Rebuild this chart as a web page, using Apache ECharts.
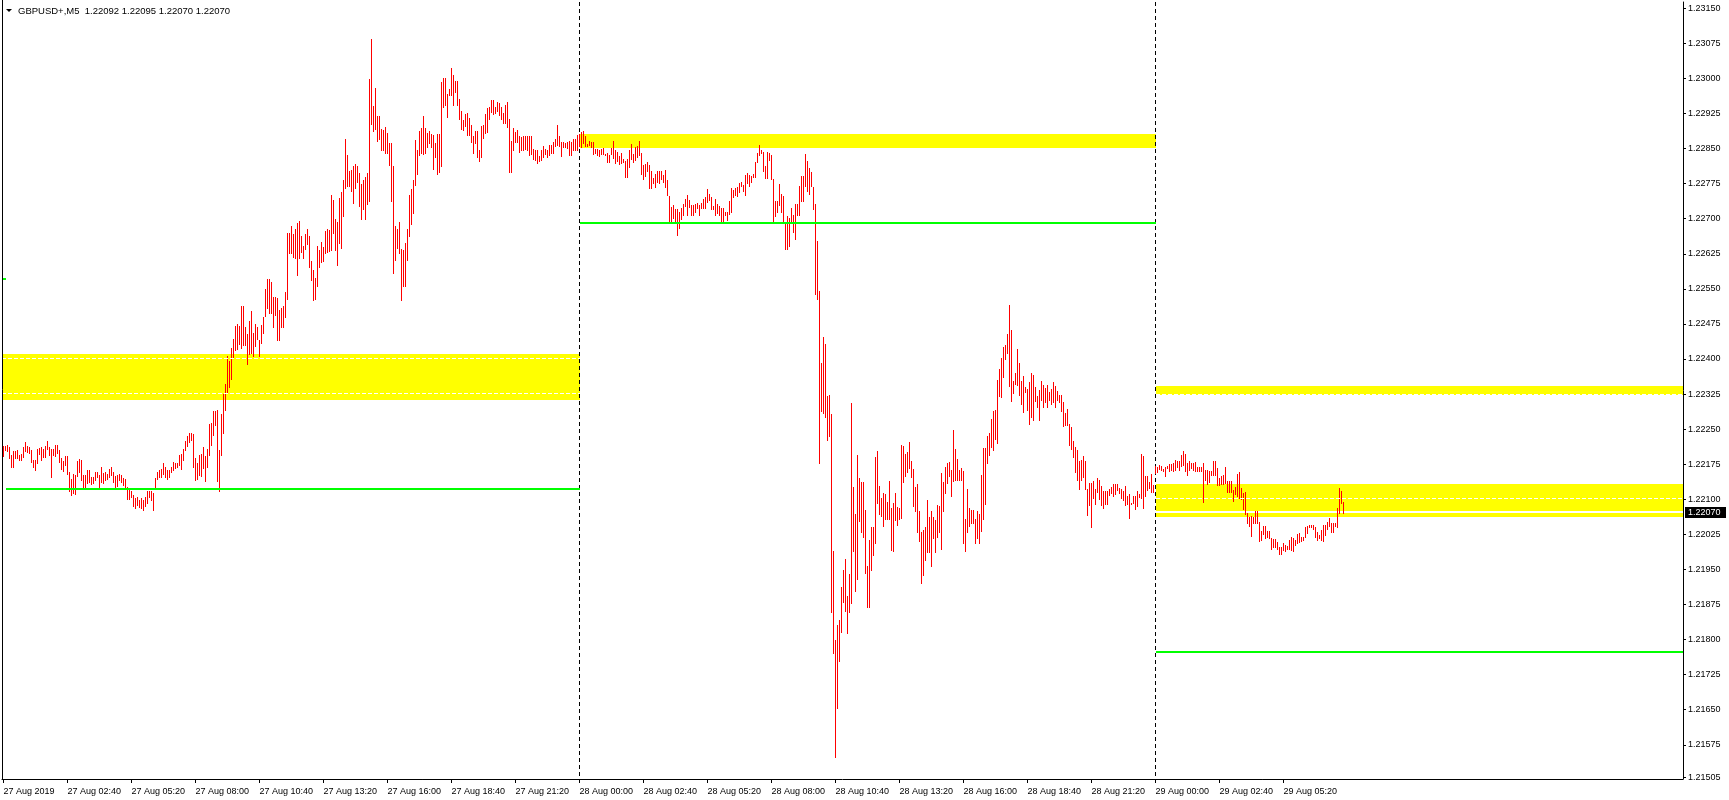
<!DOCTYPE html>
<html><head><meta charset="utf-8">
<script src="https://cdn.jsdelivr.net/npm/echarts@6/dist/echarts.min.js"></script>
<style>html,body{margin:0;padding:0;background:#fff}#c{width:1729px;height:800px}</style>
</head><body><div id="c"></div>
<script>
// ---------------- DATA ----------------
const symbolTitle = 'GBPUSD+,M5';
const lastOHLC = ['1.22092', '1.22095', '1.22070', '1.22070'];
const bidPrice = 1.22070;

const timeLabels = ['27 Aug 2019','27 Aug 02:40','27 Aug 05:20','27 Aug 08:00','27 Aug 10:40','27 Aug 13:20','27 Aug 16:00','27 Aug 18:40','27 Aug 21:20',
  '28 Aug 00:00','28 Aug 02:40','28 Aug 05:20','28 Aug 08:00','28 Aug 10:40','28 Aug 13:20','28 Aug 16:00','28 Aug 18:40','28 Aug 21:20',
  '29 Aug 00:00','29 Aug 02:40','29 Aug 05:20'];
const timeLabelBars = [0,32,64,96,128,160,192,224,256,288,320,352,384,416,448,480,512,544,576,608,640];

const priceTicks = [1.23150,1.23075,1.23000,1.22925,1.22850,1.22775,1.22700,1.22625,1.22550,1.22475,1.22400,1.22325,
  1.22250,1.22175,1.22100,1.22025,1.21950,1.21875,1.21800,1.21725,1.21650,1.21575,1.21505];

// M5 bar highs / lows, one value per bar
const high27 = [
1.22214,1.22215,1.22216,1.22212,1.22195,1.22204,1.22204,1.22205,1.22195,1.22197,1.22211,1.22222,1.22214,1.22211,1.22205,1.22184,
1.22184,1.22207,1.22210,1.22211,1.22207,1.22215,1.22225,1.22212,1.22208,1.22207,1.22217,1.22217,1.22205,1.22188,1.22182,1.22192,
1.22192,1.22159,1.22144,1.22154,1.22152,1.22182,1.22186,1.22183,1.22152,1.22152,1.22163,1.22163,1.22148,1.22148,1.22158,1.22158,
1.22152,1.22168,1.22157,1.22158,1.22155,1.22165,1.22168,1.22159,1.22150,1.22151,1.22155,1.22153,1.22145,1.22143,1.22127,1.22123,
1.22118,1.22109,1.22103,1.22105,1.22098,1.22102,1.22098,1.22105,1.22118,1.22118,1.22118,1.22113,1.22146,1.22158,1.22163,1.22165,
1.22177,1.22170,1.22163,1.22163,1.22170,1.22180,1.22178,1.22177,1.22195,1.22196,1.22207,1.22225,1.22235,1.22241,1.22241,1.22240,
1.22188,1.22177,1.22195,1.22196,1.22212,1.22192,1.22207,1.22262,1.22264,1.22289,1.22289,1.22291,1.22205,1.22282,1.22325,1.22346,
1.22406,1.22396,1.22423,1.22442,1.22471,1.22474,1.22471,1.22513,1.22513,1.22469,1.22453,1.22481,1.22503,1.22456,1.22475,1.22469,
1.22441,1.22473,1.22490,1.22550,1.22571,1.22571,1.22565,1.22532,1.22532,1.22530,1.22505,1.22509,1.22513,1.22543,1.22670,1.22670,
1.22684,1.22667,1.22678,1.22691,1.22696,1.22662,1.22642,1.22667,1.22678,1.22662,1.22610,1.22590,1.22574,1.22642,1.22633,1.22650,
1.22640,1.22674,1.22677,1.22676,1.22751,1.22740,1.22699,1.22692,1.22745,1.22757,1.22783,1.22870,1.22836,1.22803,1.22804,1.22813,
1.22818,1.22813,1.22798,1.22774,1.22783,1.22790,1.22797,1.22999,1.23084,1.22941,1.22980,1.22920,1.22920,1.22892,1.22890,1.22896,
1.22884,1.22862,1.22862,1.22813,1.22684,1.22677,1.22693,1.22636,1.22633,1.22649,1.22678,1.22751,1.22763,1.22783,1.22868,1.22847,
1.22888,1.22895,1.22919,1.22895,1.22884,1.22888,1.22881,1.22879,1.22862,1.22881,1.22881,1.22992,1.23001,1.23001,1.22967,1.22978,
1.23022,1.23007,1.22995,1.22995,1.22956,1.22930,1.22911,1.22924,1.22926,1.22915,1.22900,1.22876,1.22888,1.22888,1.22848,1.22898,
1.22900,1.22923,1.22936,1.22938,1.22953,1.22954,1.22938,1.22950,1.22947,1.22939,1.22927,1.22943,1.22950,1.22914,1.22867,1.22893,
1.22886,1.22890,1.22876,1.22874,1.22877,1.22876,1.22877,1.22877,1.22876,1.22849,1.22846,1.22847,1.22834,1.22847,1.22856,1.22849,
1.22846,1.22858,1.22858,1.22864,1.22871,1.22900,1.22876,1.22865,1.22865,1.22863,1.22865,1.22867,1.22865,1.22871,1.22871,1.22879];
const low27 = [
1.22193,1.22205,1.22204,1.22188,1.22170,1.22170,1.22188,1.22188,1.22184,1.22184,1.22190,1.22204,1.22202,1.22198,1.22180,1.22170,
1.22163,1.22177,1.22197,1.22185,1.22190,1.22191,1.22207,1.22195,1.22148,1.22195,1.22192,1.22200,1.22180,1.22164,1.22161,1.22173,
1.22155,1.22118,1.22110,1.22113,1.22111,1.22150,1.22159,1.22141,1.22123,1.22123,1.22134,1.22138,1.22133,1.22134,1.22141,1.22147,
1.22127,1.22138,1.22134,1.22141,1.22143,1.22148,1.22152,1.22138,1.22126,1.22129,1.22141,1.22138,1.22130,1.22121,1.22101,1.22101,
1.22105,1.22086,1.22082,1.22088,1.22083,1.22081,1.22077,1.22086,1.22091,1.22105,1.22098,1.22077,1.22121,1.22143,1.22147,1.22148,
1.22155,1.22148,1.22144,1.22147,1.22159,1.22163,1.22166,1.22170,1.22173,1.22164,1.22184,1.22205,1.22214,1.22223,1.22227,1.22170,
1.22141,1.22143,1.22152,1.22150,1.22166,1.22140,1.22170,1.22195,1.22216,1.22237,1.22258,1.22140,1.22118,1.22195,1.22241,1.22291,
1.22329,1.22341,1.22357,1.22403,1.22419,1.22421,1.22433,1.22423,1.22430,1.22430,1.22390,1.22410,1.22412,1.22407,1.22428,1.22442,
1.22407,1.22435,1.22455,1.22492,1.22510,1.22498,1.22498,1.22469,1.22495,1.22441,1.22441,1.22468,1.22469,1.22490,1.22529,1.22626,
1.22626,1.22619,1.22617,1.22579,1.22617,1.22628,1.22615,1.22636,1.22647,1.22597,1.22569,1.22526,1.22528,1.22557,1.22597,1.22607,
1.22610,1.22626,1.22629,1.22632,1.22633,1.22670,1.22633,1.22600,1.22649,1.22638,1.22706,1.22765,1.22769,1.22769,1.22760,1.22734,
1.22765,1.22779,1.22728,1.22700,1.22721,1.22700,1.22731,1.22738,1.22903,1.22888,1.22891,1.22867,1.22870,1.22847,1.22848,1.22840,
1.22840,1.22815,1.22737,1.22583,1.22612,1.22637,1.22626,1.22526,1.22557,1.22557,1.22612,1.22662,1.22689,1.22712,1.22773,1.22796,
1.22836,1.22841,1.22838,1.22840,1.22854,1.22863,1.22853,1.22807,1.22833,1.22796,1.22801,1.22813,1.22940,1.22944,1.22918,1.22965,
1.22965,1.22944,1.22972,1.22944,1.22914,1.22892,1.22890,1.22899,1.22878,1.22878,1.22865,1.22841,1.22861,1.22833,1.22824,1.22833,
1.22873,1.22884,1.22885,1.22914,1.22929,1.22925,1.22927,1.22930,1.22921,1.22914,1.22904,1.22904,1.22897,1.22801,1.22801,1.22847,
1.22865,1.22864,1.22843,1.22848,1.22847,1.22849,1.22847,1.22836,1.22838,1.22828,1.22825,1.22819,1.22823,1.22826,1.22833,1.22838,
1.22833,1.22836,1.22840,1.22840,1.22856,1.22858,1.22856,1.22834,1.22854,1.22854,1.22852,1.22836,1.22836,1.22847,1.22847,1.22848];
const high28 = [
1.22882,1.22885,1.22888,1.22877,1.22859,1.22867,1.22865,1.22865,1.22850,1.22850,1.22847,1.22850,1.22852,1.22838,1.22840,1.22836,
1.22852,1.22867,1.22847,1.22842,1.22834,1.22840,1.22827,1.22824,1.22827,1.22848,1.22860,1.22838,1.22854,1.22856,1.22866,1.22841,
1.22815,1.22818,1.22822,1.22814,1.22802,1.22788,1.22796,1.22802,1.22802,1.22802,1.22794,1.22804,1.22783,1.22749,1.22726,1.22729,
1.22721,1.22721,1.22715,1.22722,1.22732,1.22743,1.22751,1.22740,1.22730,1.22729,1.22732,1.22733,1.22729,1.22733,1.22742,1.22746,
1.22764,1.22752,1.22747,1.22727,1.22742,1.22732,1.22727,1.22724,1.22722,1.22715,1.22715,1.22737,1.22766,1.22761,1.22765,1.22767,
1.22777,1.22779,1.22772,1.22794,1.22797,1.22794,1.22791,1.22796,1.22821,1.22840,1.22858,1.22848,1.22843,1.22813,1.22843,1.22841,
1.22836,1.22785,1.22738,1.22738,1.22774,1.22752,1.22749,1.22692,1.22706,1.22702,1.22722,1.22708,1.22732,1.22732,1.22770,1.22791,
1.22791,1.22838,1.22823,1.22808,1.22799,1.22767,1.22732,1.22652,1.22546,1.22392,1.22448,1.22432,1.22321,1.22323,1.22282,1.21990,
1.21799,1.21831,1.21842,1.21913,1.21949,1.21972,1.21893,1.21940,1.22305,1.22127,1.22069,1.22195,1.22146,1.22136,1.22136,1.22077,
1.21957,1.22013,1.22040,1.22040,1.22191,1.22203,1.22129,1.22102,1.22114,1.22112,1.22094,1.22139,1.22082,1.22093,1.22114,1.22084,
1.22082,1.22216,1.22213,1.22197,1.22201,1.22223,1.22182,1.22165,1.22127,1.22133,1.22075,1.22031,1.22035,1.22040,1.22099,1.22063,
1.22075,1.22063,1.22056,1.22088,1.22086,1.22157,1.22138,1.22170,1.22177,1.22180,1.22163,1.22248,1.22207,1.22186,1.22163,1.22166,
1.22160,1.22058,1.22122,1.22081,1.22077,1.22077,1.22058,1.22075,1.22069,1.22152,1.22210,1.22210,1.22236,1.22242,1.22272,1.22289,
1.22291,1.22355,1.22379,1.22403,1.22426,1.22431,1.22453,1.22515,1.22462,1.22353,1.22371,1.22421,1.22391,1.22353,1.22364,1.22341,
1.22336,1.22351,1.22371,1.22366,1.22341,1.22321,1.22334,1.22353,1.22344,1.22337,1.22344,1.22330,1.22336,1.22351,1.22342,1.22331,
1.22323,1.22323,1.22307,1.22284,1.22293,1.22262,1.22254,1.22225,1.22211,1.22205,1.22182,1.22185,1.22193,1.22182,1.22121,1.22135,
1.22135,1.22140,1.22123,1.22145,1.22141,1.22129,1.22117,1.22117,1.22117,1.22122,1.22127,1.22133,1.22133,1.22133,1.22124,1.22122,
1.22117,1.22129,1.22108,1.22111,1.22092,1.22106,1.22106,1.22117,1.22111,1.22197,1.22192,1.22149,1.22149,1.22138,1.22154,1.22131];
const low28 = [
1.22856,1.22853,1.22863,1.22856,1.22856,1.22858,1.22854,1.22838,1.22840,1.22836,1.22834,1.22838,1.22838,1.22836,1.22822,1.22821,
1.22838,1.22829,1.22820,1.22824,1.22816,1.22820,1.22822,1.22789,1.22789,1.22811,1.22828,1.22822,1.22826,1.22831,1.22836,1.22796,
1.22786,1.22792,1.22802,1.22766,1.22766,1.22776,1.22767,1.22778,1.22776,1.22785,1.22779,1.22767,1.22751,1.22696,1.22695,1.22702,
1.22692,1.22666,1.22680,1.22700,1.22707,1.22728,1.22707,1.22726,1.22708,1.22708,1.22715,1.22724,1.22708,1.22724,1.22724,1.22722,
1.22735,1.22740,1.22721,1.22720,1.22708,1.22712,1.22707,1.22690,1.22696,1.22707,1.22697,1.22710,1.22715,1.22747,1.22751,1.22749,
1.22758,1.22769,1.22759,1.22751,1.22777,1.22771,1.22779,1.22789,1.22790,1.22822,1.22836,1.22841,1.22803,1.22788,1.22788,1.22826,
1.22785,1.22696,1.22705,1.22715,1.22729,1.22715,1.22692,1.22636,1.22636,1.22642,1.22692,1.22672,1.22657,1.22708,1.22708,1.22737,
1.22737,1.22770,1.22759,1.22752,1.22769,1.22720,1.22540,1.22528,1.22177,1.22289,1.22284,1.22275,1.22227,1.22236,1.21860,1.21772,
1.21548,1.21654,1.21755,1.21817,1.21881,1.21862,1.21813,1.21858,1.21879,1.21990,1.21903,1.21930,1.22054,1.22031,1.22020,1.21943,
1.21870,1.21870,1.21949,1.21981,1.22007,1.22093,1.22069,1.22065,1.22043,1.22058,1.22058,1.22058,1.21992,1.21990,1.22056,1.22045,
1.22058,1.22061,1.22137,1.22150,1.22159,1.22166,1.22148,1.22086,1.22074,1.22029,1.22010,1.21922,1.21938,1.21970,1.21988,1.21988,
1.21958,1.22017,1.21988,1.22020,1.22029,1.21993,1.22076,1.22113,1.22134,1.22149,1.22106,1.22140,1.22141,1.22142,1.22142,1.22142,
1.22007,1.21990,1.22029,1.22042,1.22049,1.22049,1.22007,1.22018,1.22007,1.22033,1.22058,1.22090,1.22177,1.22195,1.22211,1.22205,
1.22229,1.22220,1.22321,1.22319,1.22362,1.22400,1.22412,1.22342,1.22311,1.22328,1.22346,1.22344,1.22322,1.22304,1.22287,1.22330,
1.22292,1.22260,1.22277,1.22269,1.22311,1.22298,1.22269,1.22312,1.22298,1.22309,1.22298,1.22312,1.22304,1.22309,1.22298,1.22312,
1.22307,1.22289,1.22257,1.22259,1.22259,1.22216,1.22208,1.22190,1.22159,1.22141,1.22121,1.22141,1.22148,1.22121,1.22066,1.22088,
1.22041,1.22102,1.22090,1.22115,1.22100,1.22088,1.22081,1.22090,1.22090,1.22110,1.22113,1.22106,1.22112,1.22120,1.22113,1.22102,
1.22099,1.22088,1.22090,1.22060,1.22090,1.22092,1.22079,1.22085,1.22105,1.22102,1.22081,1.22106,1.22120,1.22124,1.22115,1.22115];
const high29 = [
1.22172,1.22170,1.22174,1.22172,1.22165,1.22170,1.22172,1.22176,1.22176,1.22177,1.22183,1.22181,1.22181,1.22195,1.22204,1.22197,
1.22177,1.22181,1.22177,1.22177,1.22179,1.22168,1.22168,1.22168,1.22177,1.22163,1.22163,1.22161,1.22160,1.22181,1.22182,1.22167,
1.22145,1.22149,1.22151,1.22169,1.22140,1.22140,1.22140,1.22120,1.22127,1.22155,1.22158,1.22124,1.22113,1.22115,1.22070,1.22063,
1.22065,1.22063,1.22075,1.22074,1.22051,1.22033,1.22043,1.22043,1.22033,1.22033,1.22017,1.22015,1.22015,1.22008,1.21999,1.21998,
1.22006,1.22003,1.22000,1.22013,1.22019,1.22017,1.22013,1.22025,1.22028,1.22020,1.22020,1.22040,1.22043,1.22045,1.22045,1.22044,
1.22040,1.22031,1.22024,1.22035,1.22045,1.22044,1.22051,1.22060,1.22050,1.22050,1.22049,1.22081,1.22124,1.22118,1.22095];
const low29 = [
1.22157,1.22158,1.22165,1.22163,1.22160,1.22149,1.22167,1.22160,1.22163,1.22160,1.22163,1.22170,1.22163,1.22172,1.22174,1.22160,
1.22152,1.22163,1.22167,1.22162,1.22160,1.22160,1.22160,1.22160,1.22095,1.22142,1.22132,1.22136,1.22152,1.22152,1.22152,1.22130,
1.22130,1.22132,1.22132,1.22135,1.22115,1.22115,1.22115,1.22097,1.22112,1.22106,1.22102,1.22100,1.22080,1.22069,1.22050,1.22042,
1.22022,1.22049,1.22050,1.22049,1.22010,1.22012,1.22025,1.22018,1.22019,1.22017,1.21994,1.21999,1.21999,1.21993,1.21983,1.21983,
1.21992,1.21990,1.21993,1.21993,1.21992,1.21990,1.22003,1.22006,1.22008,1.22010,1.22013,1.22019,1.22028,1.22040,1.22040,1.22036,
1.22020,1.22012,1.22017,1.22012,1.22011,1.22023,1.22036,1.22043,1.22030,1.22030,1.22042,1.22040,1.22070,1.22092,1.22070];

// day boundaries (bar index) and drawn objects per day
const daySeparatorBars = [288, 576];
const zoneDay    = [0, 1, 2, 2];
const zoneTop    = [1.22411, 1.22882, 1.22342, 1.22133];
const zoneBottom = [1.22313, 1.22852, 1.22322, 1.22063];
const zoneDashDay   = [0, 0, 2, 2];
const zoneDashPrice = [1.22402, 1.22327, 1.22326, 1.22102];
const levelDay   = [0, 1, 2];
const levelPrice = [1.22123, 1.22691, 1.21774];
const stubPrice  = 1.22571;
const bidLinePrice = 1.22073;

// ---------------- CHART ----------------
const X_MIN = -0.75, X_MAX = 839.75;
const Y_MIN = 1.215018, Y_MAX = 1.231635;
const dayEdges = [X_MIN, 288, 576, X_MAX];
const FONT = 'Liberation Sans';

const highs = high27.concat(high28, high29);
const lows = low27.concat(low28, low29);
const barData = highs.map((h, i) => [i, h, lows[i]]);

const zoneData = zoneDay.map((d, i) => [dayEdges[d], dayEdges[d + 1], zoneTop[i], zoneBottom[i]]);
const zoneDashData = zoneDashDay.map((d, i) => [dayEdges[d], dayEdges[d + 1], zoneDashPrice[i]]);
const levelData = levelDay.map((d, i) => [d === 0 ? 1 : dayEdges[d], dayEdges[d + 1], levelPrice[i]]);
const stubData = [[X_MIN, 1, stubPrice]];
const bidData = [[dayEdges[2], dayEdges[3], bidLinePrice]];
const sepData = daySeparatorBars.map(b => [b, 0]);

function hLine(color, width, dash) {
  return function (params, api) {
    const a = api.coord([api.value(0), api.value(2)]);
    const b = api.coord([api.value(1), api.value(2)]);
    let y = Math.round(a[1]);
    if (width % 2 === 1) y += 0.5;
    return { type: 'line', shape: { x1: Math.round(a[0]), y1: y, x2: Math.round(b[0]), y2: y },
      style: { stroke: color, lineWidth: width, lineDash: dash || null } };
  };
}

const chart = echarts.init(document.getElementById('c'), null, { renderer: 'canvas', width: 1729, height: 800 });
chart.setOption({
  animation: false,
  backgroundColor: '#ffffff',
  grid: { left: 2, right: 46, top: 2, bottom: 21, containLabel: false },
  xAxis: {
    type: 'value', min: X_MIN, max: X_MAX,
    axisLine: { show: true, onZero: false, lineStyle: { color: '#000', width: 1 } },
    axisTick: { show: true, length: 4, customValues: timeLabelBars, lineStyle: { color: '#000' } },
    axisLabel: { customValues: timeLabelBars, formatter: v => timeLabels[timeLabelBars.indexOf(Math.round(v))] || '',
      align: 'left', margin: 8, fontSize: 9, fontFamily: FONT, color: '#000', hideOverlap: false },
    splitLine: { show: false }
  },
  yAxis: {
    type: 'value', position: 'right', min: Y_MIN, max: Y_MAX,
    axisLine: { show: true, onZero: false, lineStyle: { color: '#000', width: 1 } },
    axisTick: { show: true, length: 3, customValues: priceTicks, lineStyle: { color: '#000' } },
    axisLabel: { customValues: priceTicks, formatter: v => v.toFixed(5), margin: 5,
      fontSize: 9, fontFamily: FONT, color: '#000', hideOverlap: false },
    splitLine: { show: false }
  },
  series: [
    { type: 'custom', name: 'zones', data: zoneData, z: 1, clip: true, silent: true,
      renderItem: (params, api) => {
        const a = api.coord([api.value(0), api.value(2)]);
        const b = api.coord([api.value(1), api.value(3)]);
        const x = Math.round(a[0]), y = Math.round(a[1]);
        return { type: 'rect', shape: { x, y, width: Math.round(b[0]) - x, height: Math.round(b[1]) - y },
          style: { fill: '#ffff00' } };
      } },
    { type: 'custom', name: 'bid', data: bidData, z: 2, clip: true, silent: true, renderItem: hLine('#ffffff', 2) },
    { type: 'custom', name: 'separators', data: sepData, z: 3, clip: true, silent: true,
      renderItem: (params, api) => {
        const cs = params.coordSys;
        const x = Math.round(api.coord([api.value(0), Y_MIN])[0] - 0.5) + 0.5;
        return { type: 'line', shape: { x1: x, y1: cs.y, x2: x, y2: cs.y + cs.height },
          style: { stroke: '#000', lineWidth: 1, lineDash: [4, 3] } };
      } },
    { type: 'custom', name: 'bars', data: barData, z: 5, clip: true, silent: true,
      renderItem: (params, api) => {
        const i = api.value(0);
        const a = api.coord([i, api.value(1)]);
        const b = api.coord([i, api.value(2)]);
        const x = Math.floor(a[0]);
        const y1 = Math.round(a[1]);
        let y2 = Math.round(b[1]);
        if (y2 <= y1) y2 = y1 + 1;
        return { type: 'rect', shape: { x, y: y1, width: 1, height: y2 - y1 + 1 }, style: { fill: '#ff0000' } };
      } },
    { type: 'custom', name: 'zoneDash', data: zoneDashData, z: 6, clip: true, silent: true, renderItem: hLine('#ffffff', 1, [4, 2]) },
    { type: 'custom', name: 'levels', data: levelData, z: 7, clip: true, silent: true, renderItem: hLine('#00ff00', 2) },
    { type: 'custom', name: 'stub', data: stubData, z: 7, clip: true, silent: true, renderItem: hLine('#00ff00', 2) }
  ]
});

const bidPx = chart.convertToPixel({ xAxisIndex: 0, yAxisIndex: 0 }, [0, bidPrice]);
const by = Math.round(bidPx[1]) - 1;
chart.setOption({
  graphic: [
    { type: 'line', shape: { x1: 2.5, y1: 0, x2: 2.5, y2: 779 }, style: { stroke: '#000', lineWidth: 1 }, z: 10 },
    { type: 'polygon', shape: { points: [[6, 9], [12, 9], [9, 12]] }, style: { fill: '#000' }, z: 10 },
    { type: 'text', x: 18, y: 11, z: 10,
      style: { text: symbolTitle + '  ' + lastOHLC.join(' '), font: '9.5px "' + FONT + '"', fill: '#000', verticalAlign: 'middle', align: 'left' } },
    { type: 'rect', shape: { x: 1685, y: by - 5, width: 41, height: 11 }, style: { fill: '#000' }, z: 10 },
    { type: 'text', x: 1688, y: by + 0.5, z: 11,
      style: { text: bidPrice.toFixed(5), font: '9px "' + FONT + '"', fill: '#fff', verticalAlign: 'middle', align: 'left' } }
  ]
});
</script></body></html>
